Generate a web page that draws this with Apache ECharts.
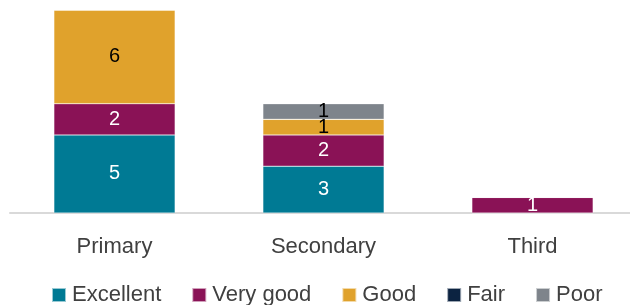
<!DOCTYPE html>
<html>
<head>
<meta charset="utf-8">
<script src="https://cdn.jsdelivr.net/npm/echarts@6/dist/echarts.min.js"></script>
<style>
  html, body { margin: 0; padding: 0; background: #fff; overflow: hidden; }
  /* a bit wider than the window so the last category can run past the edge */
  #main { width: 640px; height: 305px; }
</style>
</head>
<body>
<div id="main"></div>
<script>
// data
const categories = ["Primary", "Secondary", "Third"];
const excellent = [5, 3, 0];
const veryGood = [2, 2, 1];
const good = [6, 1, 0];
const fair = [0, 0, 0];
const poor = [0, 1, 0];

const myChart = echarts.init(document.getElementById("main"));

const font = "Liberation Sans";

// one stacked series
function makeSeries(name, values, color, labelColor) {
  return {
    name: name,
    type: "bar",
    stack: "total",
    data: values,
    barWidth: "58%",
    itemStyle: {
      color: color,
      borderColor: "rgba(255,255,255,0.6)",
      borderWidth: 0.5,
    },
    label: {
      show: true,
      position: "inside",
      color: labelColor,
      fontFamily: font,
      fontSize: 20,
      formatter: function (p) {
        return p.value === 0 ? "" : p.value;
      },
    },
  };
}

const option = {
  animation: false,
  grid: {
    left: 10,
    width: 627,
    top: 10,
    bottom: 92,
  },
  legend: {
    top: 279,
    left: 46,
    icon: "rect",
    itemWidth: 14,
    itemHeight: 14,
    itemGap: 30,
    textStyle: {
      fontFamily: font,
      fontSize: 22,
      color: "#404040",
      padding: [0, 0, 0, 1],
    },
  },
  xAxis: {
    type: "category",
    data: categories,
    axisLine: { lineStyle: { color: "#d9d9d9", width: 2 } },
    axisTick: { show: false },
    axisLabel: {
      margin: 23,
      fontFamily: font,
      fontSize: 22,
      color: "#404040",
    },
  },
  yAxis: {
    type: "value",
    min: 0,
    max: 13,
    show: false,
    splitLine: { show: false },
  },
  series: [
    makeSeries("Excellent", excellent, "#007A94", "#ffffff"),
    makeSeries("Very good", veryGood, "#8A1256", "#ffffff"),
    makeSeries("Good", good, "#E0A22C", "#000000"),
    makeSeries("Fair", fair, "#0C2341", "#ffffff"),
    makeSeries("Poor", poor, "#7E848B", "#000000"),
  ],
};

myChart.setOption(option);
</script>
</body>
</html>
